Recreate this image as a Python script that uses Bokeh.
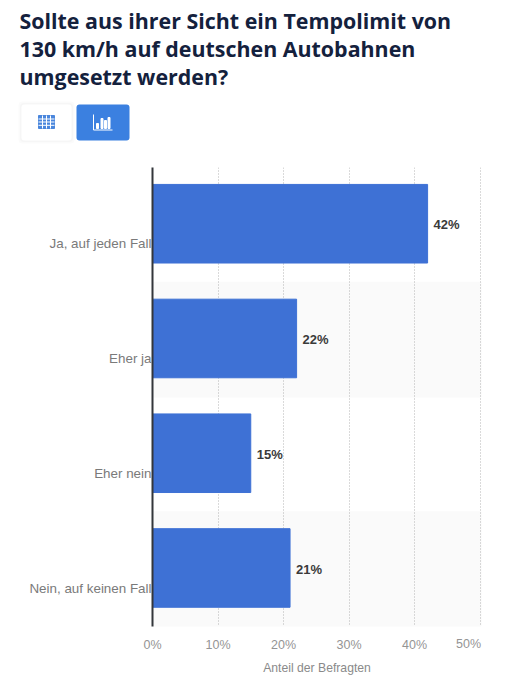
from bokeh.plotting import figure
from bokeh.layouts import column
from bokeh.models import (Range1d, FixedTicker, ColumnDataSource, LinearAxis, Grid, BoxAnnotation)
from bokeh.core.properties import value
from bokeh.embed import file_html
from bokeh.resources import INLINE

title_lines = ["Sollte aus ihrer Sicht ein Tempolimit von",
               "130 km/h auf deutschen Autobahnen",
               "umgesetzt werden?"]
categories = ["Ja, auf jeden Fall", "Eher ja", "Eher nein", "Nein, auf keinen Fall"]
values = [42, 22, 15, 21]
x_ticks = [0, 10, 20, 30, 40, 50]
x_title = "Anteil der Befragten"

PAGE_W, PAGE_H = 505, 680
HEAD_H = 150

# ---- header: title and the two view buttons, drawn in pixel coordinates
h = figure(width=PAGE_W, height=HEAD_H, output_backend="svg", toolbar_location=None,
           x_range=Range1d(0, PAGE_W), y_range=Range1d(HEAD_H, 0),
           x_axis_location=None, y_axis_location=None, frame_align=False,
           min_border=0, outline_line_color=None, border_fill_color="white")
h.grid.visible = False
h.text(x=[19] * 3, y=[20, 48, 76], text=title_lines, text_baseline="middle",
       text_font=value("Open Sans"), text_font_style="bold", text_font_size="21.4px",
       text_color="#14213d")
for grow, col in [(3, "#fbfbfb"), (1.5, "#f6f6f6")]:
    h.add_layout(BoxAnnotation(left=21 - grow, right=71 + grow, top=104 - grow, bottom=140 + grow,
                               fill_color=col, fill_alpha=1, line_color=None,
                               border_radius=4, level="underlay"))
h.add_layout(BoxAnnotation(left=21, right=71, top=104, bottom=140, fill_color="white",
                           fill_alpha=1, line_color=None, border_radius=3, level="underlay"))
h.add_layout(BoxAnnotation(left=76, right=129, top=104, bottom=140, fill_color="#3b80e0",
                           fill_alpha=1, line_color=None, border_radius=3, level="underlay"))
# table icon
h.quad(left=38, right=54, top=115, bottom=128, color="#4a86dc")
h.segment(x0=[38, 38, 38], x1=[54, 54, 54], y0=[118.5, 121.5, 124.8], y1=[118.5, 121.5, 124.8],
          line_color="white", line_width=1)
h.segment(x0=[42, 46, 50], x1=[42, 46, 50], y0=[115] * 3, y1=[128] * 3, line_color="white", line_width=1)
# chart icon
h.segment(x0=[93, 93], x1=[93, 112], y0=[114, 129.5], y1=[129.5, 129.5], line_color="white", line_width=1)
h.quad(left=[96, 100.5, 104, 107.5], right=[98, 102.5, 106, 109.5],
       top=[123, 118, 120, 117], bottom=[128] * 4, color="white")

# ---- chart
FRAME_W = 329
SCALE = 6.55  # px per percentage point
X_END = FRAME_W / SCALE
p = figure(width=PAGE_W, height=PAGE_H - HEAD_H, output_backend="svg", toolbar_location=None,
           x_range=Range1d(0, X_END), y_range=Range1d(4, 0),
           x_axis_location=None, y_axis_location=None, frame_align=False,
           min_border_left=152, min_border_right=24, min_border_top=17, min_border_bottom=54,
           outline_line_color=None, background_fill_color="white", border_fill_color="white")
p.grid.visible = False

rows = list(range(len(categories)))
p.hbar(y=[r + 0.5 for r in rows[1::2]], left=0, right=X_END, height=1,
       color="#fafafa", level="image")

p.add_layout(Grid(dimension=0, ticker=FixedTicker(ticks=x_ticks[1:]),
                  grid_line_color="#b4b4b4", grid_line_dash="1 2", grid_line_width=1))

src = ColumnDataSource(dict(y=[r + 0.49 for r in rows], v=values,
                            ty=[r + 0.50 for r in rows],
                            t=[f"{v}%" for v in values]))
p.hbar(y="y", left=0, right="v", height=0.685, source=src, color="#3e71d5")
p.text(x="v", y="ty", text="t", source=src, x_offset=6, text_baseline="middle",
       text_font=value("Liberation Sans"), text_font_style="bold",
       text_font_size="13px", text_color="#3a3a3a")

yax = LinearAxis(ticker=FixedTicker(ticks=[r + 0.665 for r in rows]),
                 major_label_overrides={r + 0.665: c for r, c in zip(rows, categories)},
                 major_tick_line_color=None, minor_tick_line_color=None,
                 major_label_standoff=-5, axis_line_color="#33363b", axis_line_width=2,
                 major_label_text_font="Liberation Sans", major_label_text_font_size="13.4px",
                 major_label_text_color="#7a7a7a")
p.add_layout(yax, "left")

AX_TEXT = dict(axis_line_color=None, major_tick_line_color=None, minor_tick_line_color=None,
               major_label_text_font="Liberation Sans", major_label_text_font_size="12.5px",
               major_label_text_color="#949494")
xax = LinearAxis(ticker=FixedTicker(ticks=x_ticks[:-1]),
                 major_label_overrides={t: f"{t}%" for t in x_ticks[:-1]},
                 major_label_standoff=5, **AX_TEXT)
p.add_layout(xax, "below")

# the last x label sits left of its gridline: a second axis on a shifted range
SHIFT = 11.5 / SCALE
p.extra_x_ranges["last"] = Range1d(SHIFT, X_END + SHIFT)
xax2 = LinearAxis(x_range_name="last", ticker=FixedTicker(ticks=x_ticks[-1:]),
                  major_label_overrides={x_ticks[-1]: f"{x_ticks[-1]}%"},
                  major_label_standoff=-24, axis_label=x_title, axis_label_standoff=7,
                  axis_label_text_font="Liberation Sans", axis_label_text_font_style="normal",
                  axis_label_text_font_size="12.2px", axis_label_text_color="#8a8a8a", **AX_TEXT)
p.add_layout(xax2, "below")

page = column(h, p, spacing=0)
open("out.html", "w").write(file_html(page, INLINE))
